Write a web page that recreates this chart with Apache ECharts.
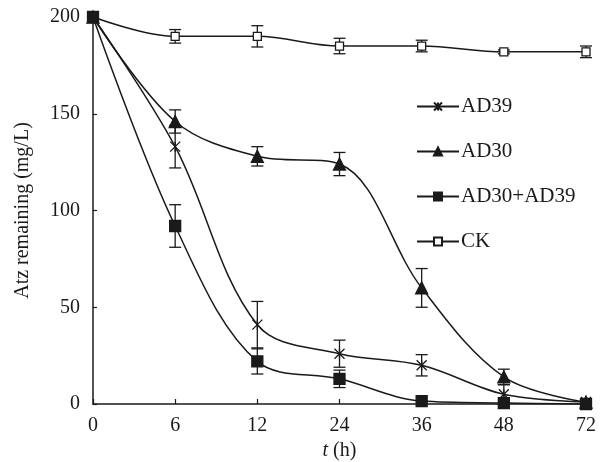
<!DOCTYPE html>
<html>
<head>
<meta charset="utf-8">
<script src="https://cdn.jsdelivr.net/npm/echarts@6/dist/echarts.min.js"></script>
<style>html,body{margin:0;padding:0;background:#fff;}#c{width:606px;height:462px;}</style>
</head>
<body>
<div id="c"></div>
<script>
var categories = ['0', '6', '12', '24', '36', '48', '72'];
var yTicks = [0, 50, 100, 150, 200];
var seriesNames = ['AD39', 'AD30', 'AD30+AD39', 'CK'];
var ad39 = [200, 133, 41, 26, 20, 5, 1];
var ad39Err = [0, 11, 12, 7, 5.5, 5, 0];
var ad30 = [200, 146, 128, 124, 60, 14, 1];
var ad30Err = [0, 6, 5, 6, 10, 4, 0];
var mix = [200, 92, 22, 13, 1.5, 0.5, 0];
var mixErr = [0, 11, 6.5, 4.5, 0, 0, 0];
var ck = [200, 190, 190, 185, 185, 182, 182];
var ckErr = [1, 3.5, 5.5, 4, 3, 1, 3];

var FONT = "'Liberation Serif','Times New Roman',serif";
var INK = '#1a1a1a';

function errData(vals, errs) {
  var out = [];
  for (var i = 0; i < vals.length; i++) {
    if (errs[i] > 0) out.push([i, vals[i] - errs[i], vals[i] + errs[i]]);
  }
  return out;
}
function errSeries(vals, errs) {
  return {
    type: 'custom',
    data: errData(vals, errs),
    z: 2,
    silent: true,
    renderItem: function (params, api) {
      var lo = api.coord([api.value(0), api.value(1)]);
      var hi = api.coord([api.value(0), api.value(2)]);
      var w = 6;
      var st = { stroke: INK, lineWidth: 1.3 };
      return {
        type: 'group',
        children: [
          { type: 'line', shape: { x1: lo[0], y1: lo[1], x2: hi[0], y2: hi[1] }, style: st },
          { type: 'line', shape: { x1: lo[0] - w, y1: lo[1], x2: lo[0] + w, y2: lo[1] }, style: st },
          { type: 'line', shape: { x1: hi[0] - w, y1: hi[1], x2: hi[0] + w, y2: hi[1] }, style: st }
        ]
      };
    }
  };
}
function lineSeries(name, vals, symbol, size, fill) {
  return {
    name: name,
    type: 'line',
    data: vals,
    smooth: 0.35,
    z: 3,
    symbol: symbol,
    symbolSize: size,
    showAllSymbol: true,
    lineStyle: { color: INK, width: 1.5 },
    itemStyle: { color: fill, borderColor: INK, borderWidth: 1.3 },
    emphasis: { disabled: true }
  };
}

var chart = echarts.init(document.getElementById('c'), null, { renderer: 'canvas' });
chart.setOption({
  animation: false,
  backgroundColor: '#fff',
  textStyle: { fontFamily: FONT },
  grid: { left: 93, right: 20, top: 17, bottom: 58, containLabel: false, outerBoundsMode: 'none' },
  legend: {
    orient: 'vertical',
    left: 411,
    top: 91,
    itemWidth: 42,
    itemHeight: 10,
    itemGap: 24,
    data: seriesNames,
    textStyle: { fontFamily: FONT, fontSize: 21, color: INK, lineHeight: 21, padding: [0, 0, 0, -3] }
  },
  xAxis: {
    type: 'category',
    data: categories,
    boundaryGap: false,
    axisLine: { lineStyle: { color: INK, width: 1.5 } },
    axisTick: { inside: true, length: 5, alignWithLabel: true, lineStyle: { color: INK, width: 1.2 } },
    axisLabel: { fontFamily: FONT, fontSize: 20, color: INK, margin: 12 },
    splitLine: { show: false },
    name: '{i|t} (h)',
    nameLocation: 'middle',
    nameGap: 37,
    nameTextStyle: {
      fontFamily: FONT, fontSize: 20, color: INK,
      rich: { i: { fontFamily: FONT, fontSize: 20, fontStyle: 'italic', color: INK } }
    }
  },
  yAxis: {
    type: 'value',
    min: yTicks[0],
    max: yTicks[yTicks.length - 1],
    interval: 50,
    axisLine: { show: true, lineStyle: { color: INK, width: 1.5 } },
    axisTick: { show: true, inside: true, length: 4, lineStyle: { color: INK, width: 1.2 } },
    axisLabel: { fontFamily: FONT, fontSize: 20, color: INK, margin: 13 },
    splitLine: { show: false },
    name: 'Atz remaining (mg/L)',
    nameLocation: 'middle',
    nameGap: 60,
    nameTextStyle: { fontFamily: FONT, fontSize: 20, color: INK }
  },
  series: [
    errSeries(ck, ckErr),
    errSeries(ad30, ad30Err),
    errSeries(ad39, ad39Err),
    errSeries(mix, mixErr),
    lineSeries('CK', ck, 'rect', 8, '#fff'),
    lineSeries('AD30', ad30, 'triangle', 12, INK),
    lineSeries('AD39', ad39, 'path://M0,0L10,10M10,0L0,10M5,0L5,10', 10, 'none'),
    lineSeries('AD30+AD39', mix, 'rect', 11, INK)
  ]
});
</script>
</body>
</html>
